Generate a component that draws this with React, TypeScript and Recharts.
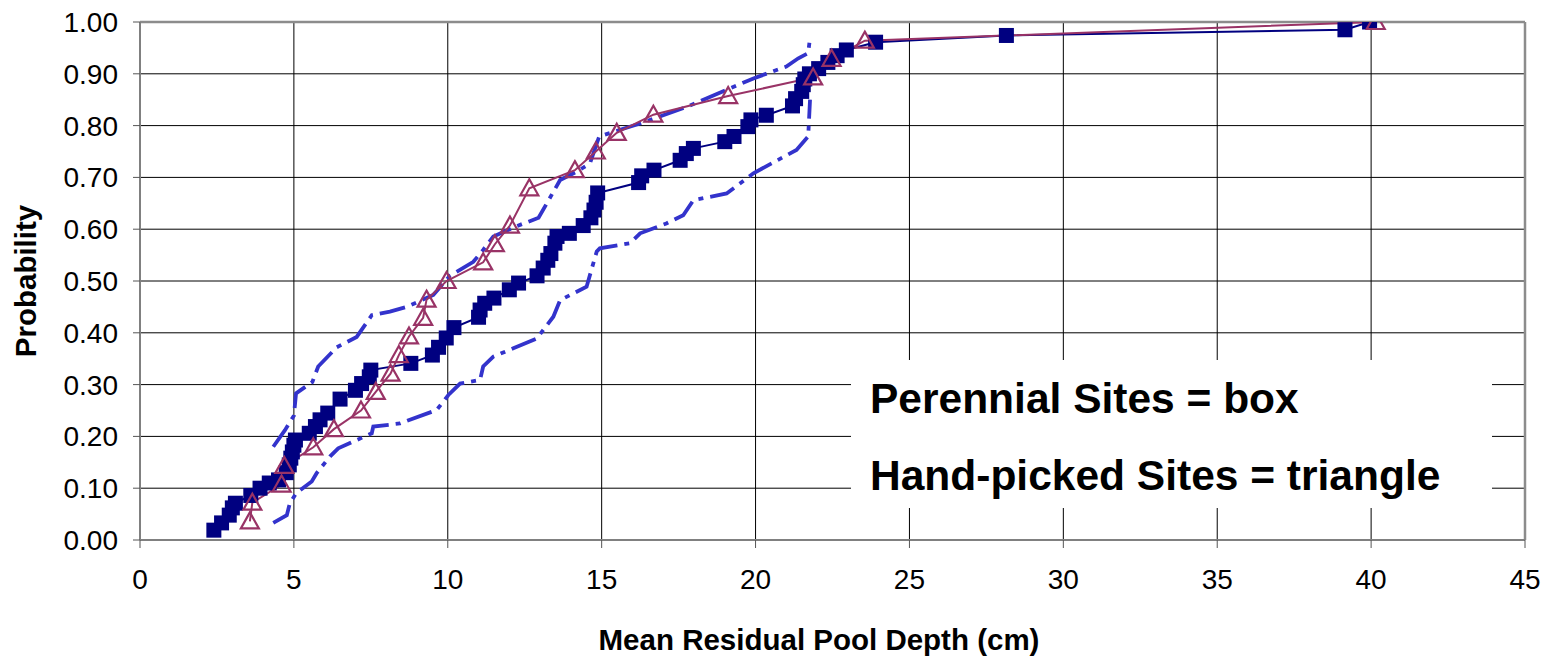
import React from 'react';
import { LineChart, Line, XAxis, YAxis, CartesianGrid, ReferenceLine } from 'recharts';

const FONT = '"Liberation Sans", Arial, sans-serif';

const X_TICKS = [0, 5, 10, 15, 20, 25, 30, 35, 40, 45];
const Y_TICKS = [0, 0.1, 0.2, 0.3, 0.4, 0.5, 0.6, 0.7, 0.8, 0.9, 1.0];

const X_TITLE = 'Mean Residual Pool Depth (cm)';
const Y_TITLE = 'Probability';
const NOTE_LINES = ['Perennial Sites = box', 'Hand-picked Sites = triangle'];

// Perennial sites (filled boxes)
const perennial: [number, number][] = [
  [2.4, 0.019], [2.65, 0.033], [2.9, 0.048], [3.0, 0.062], [3.1, 0.071], [3.6, 0.086],
  [3.9, 0.1], [4.2, 0.11], [4.5, 0.116], [4.75, 0.13], [4.85, 0.145], [4.9, 0.158],
  [4.95, 0.17], [5.0, 0.183], [5.05, 0.193], [5.5, 0.206], [5.7, 0.219], [5.85, 0.232],
  [6.1, 0.245], [6.5, 0.272], [7.0, 0.289], [7.2, 0.302], [7.45, 0.315], [7.5, 0.328],
  [8.8, 0.341], [9.5, 0.357], [9.7, 0.372], [9.95, 0.39], [10.2, 0.41], [11.0, 0.43],
  [11.05, 0.444], [11.2, 0.457], [11.5, 0.467], [12.0, 0.483], [12.3, 0.496], [12.9, 0.51],
  [13.1, 0.525], [13.25, 0.54], [13.35, 0.553], [13.48, 0.573], [13.55, 0.586], [13.95, 0.592],
  [14.4, 0.607], [14.65, 0.622], [14.75, 0.637], [14.82, 0.652], [14.87, 0.67], [16.2, 0.69],
  [16.3, 0.703], [16.7, 0.714], [17.55, 0.733], [17.75, 0.746], [17.98, 0.756], [19.0, 0.769],
  [19.3, 0.779], [19.75, 0.798], [19.85, 0.811], [20.35, 0.82], [21.2, 0.838], [21.3, 0.852],
  [21.5, 0.866], [21.55, 0.879], [21.6, 0.89], [21.75, 0.9], [22.05, 0.91], [22.35, 0.922],
  [22.65, 0.935], [22.95, 0.946], [23.9, 0.961], [28.15, 0.974], [39.15, 0.985], [39.95, 1.0],
];

// Hand-picked sites (hollow triangles)
const handPicked: [number, number][] = [
  [3.57, 0.036], [3.65, 0.072], [4.6, 0.107], [4.69, 0.143], [5.63, 0.179], [6.3, 0.214],
  [7.18, 0.25], [7.66, 0.286], [8.14, 0.321], [8.41, 0.357], [8.74, 0.393], [9.2, 0.429],
  [9.31, 0.464], [9.96, 0.5], [11.15, 0.536], [11.53, 0.571], [12.02, 0.607], [12.65, 0.679],
  [14.13, 0.714], [14.81, 0.75], [15.49, 0.786], [16.68, 0.821], [19.11, 0.857], [21.87, 0.893],
  [22.47, 0.929], [23.55, 0.964], [40.15, 1.0],
];

// Upper confidence bound (dash-dot)
const upperBound: [number, number][] = [
  [4.33, 0.18], [4.71, 0.212], [5.0, 0.24], [5.07, 0.283], [5.6, 0.305], [5.79, 0.335],
  [6.39, 0.372], [7.04, 0.392], [7.53, 0.434], [8.12, 0.441], [8.66, 0.45], [9.53, 0.473],
  [10.07, 0.51], [10.83, 0.537], [11.15, 0.56], [11.48, 0.586], [12.2, 0.605], [12.95, 0.622],
  [13.65, 0.695], [14.19, 0.711], [14.62, 0.727], [14.92, 0.779], [15.6, 0.792], [16.25, 0.804],
  [17.76, 0.836], [19.93, 0.891], [21.0, 0.914], [21.39, 0.93], [21.71, 0.94], [21.77, 0.97],
];

// Lower confidence bound (dash-dot)
const lowerBound: [number, number][] = [
  [4.33, 0.033], [4.77, 0.048], [4.87, 0.071], [5.07, 0.09], [5.58, 0.113], [5.74, 0.129],
  [6.17, 0.161], [6.44, 0.177], [7.53, 0.206], [7.58, 0.219], [8.45, 0.225], [9.64, 0.251],
  [10.02, 0.28], [10.4, 0.302], [11.05, 0.309], [11.15, 0.335], [11.48, 0.354], [12.13, 0.37],
  [12.89, 0.389], [13.43, 0.431], [13.65, 0.463], [14.51, 0.489], [14.84, 0.557], [14.94, 0.563],
  [15.92, 0.573], [16.25, 0.592], [17.1, 0.611], [17.65, 0.627], [17.98, 0.656], [19.06, 0.669],
  [19.93, 0.708], [21.33, 0.753], [21.71, 0.779], [21.77, 0.85],
];

const toRows = (pts: [number, number][]) => pts.map(([x, y]) => ({ x, y }));

const NAVY = '#000080';
const MAROON = '#993366';
const BAND = '#3333CC';

const SquareDot = (props: any) => {
  const { cx, cy, index } = props;
  if (cx == null || cy == null) return <g key={`s${index}`} />;
  return <rect key={`s${index}`} x={cx - 7.5} y={cy - 7.5} width={15} height={15} fill={NAVY} />;
};

const TriangleDot = (props: any) => {
  const { cx, cy, index } = props;
  if (cx == null || cy == null) return <g key={`t${index}`} />;
  const d = `M${cx},${cy - 9} L${cx + 9},${cy + 7} L${cx - 9},${cy + 7} Z`;
  return <path key={`t${index}`} d={d} fill="none" stroke={MAROON} strokeWidth={2.2} />;
};

export default function App() {
  const W = 1551;
  const H = 657;
  return (
    <div style={{ position: 'absolute', left: 0, top: 0, width: W, height: H, background: '#fff' }}>
      <LineChart width={W} height={H} margin={{ top: 22, right: 26, bottom: 57, left: 60 }}>
        <CartesianGrid stroke="#000" strokeWidth={1} />
        <XAxis
          type="number"
          dataKey="x"
          domain={[0, 45]}
          ticks={X_TICKS}
          interval={0}
          height={60}
          allowDataOverflow
          axisLine={{ stroke: '#808080', strokeWidth: 2 }}
          tickLine={{ stroke: '#555' }}
          tickSize={8}
          tickMargin={21}
          tick={{ fill: '#000', fontSize: 28, fontFamily: FONT }}
        />
        <YAxis
          type="number"
          dataKey="y"
          domain={[0, 1]}
          ticks={Y_TICKS}
          interval={0}
          width={80}
          allowDataOverflow
          axisLine={{ stroke: '#808080', strokeWidth: 2 }}
          tickLine={{ stroke: '#555' }}
          tickSize={7}
          tickMargin={15}
          tickFormatter={(v: number) => v.toFixed(2)}
          tick={{ fill: '#000', fontSize: 28, fontFamily: FONT }}
        />
        <ReferenceLine y={1} stroke="#8c8c8c" strokeWidth={2.5} />
        <ReferenceLine x={45} stroke="#8c8c8c" strokeWidth={2.5} />
        <Line
          data={toRows(lowerBound)}
          dataKey="y"
          type="linear"
          stroke={BAND}
          strokeWidth={3.8}
          strokeDasharray="26 7 5 7"
          dot={false}
          activeDot={false}
          isAnimationActive={false}
        />
        <Line
          data={toRows(upperBound)}
          dataKey="y"
          type="linear"
          stroke={BAND}
          strokeWidth={3.8}
          strokeDasharray="26 7 5 7"
          dot={false}
          activeDot={false}
          isAnimationActive={false}
        />
        <Line
          data={toRows(perennial)}
          dataKey="y"
          type="linear"
          stroke={NAVY}
          strokeWidth={2}
          dot={SquareDot}
          activeDot={false}
          isAnimationActive={false}
        />
        <Line
          data={toRows(handPicked)}
          dataKey="y"
          type="linear"
          stroke={MAROON}
          strokeWidth={2}
          dot={TriangleDot}
          activeDot={false}
          isAnimationActive={false}
        />
      </LineChart>
      <svg
        width={W}
        height={H}
        style={{ position: 'absolute', left: 0, top: 0, pointerEvents: 'none' }}
      >
        <text
          x={819}
          y={650}
          textAnchor="middle"
          fontFamily={FONT}
          fontWeight="bold"
          fontSize={29.5}
          fill="#000"
        >
          {X_TITLE}
        </text>
        <text
          x={36}
          y={281}
          textAnchor="middle"
          transform="rotate(-90, 36, 281)"
          fontFamily={FONT}
          fontWeight="bold"
          fontSize={29.5}
          fill="#000"
        >
          {Y_TITLE}
        </text>
        <rect x={851} y={360} width={641} height={148} fill="#fff" />
        <text x={870} y={413} fontFamily={FONT} fontWeight="bold" fontSize={42.5} fill="#000">
          {NOTE_LINES[0]}
        </text>
        <text x={870} y={490} fontFamily={FONT} fontWeight="bold" fontSize={42.5} fill="#000">
          {NOTE_LINES[1]}
        </text>
      </svg>
    </div>
  );
}
